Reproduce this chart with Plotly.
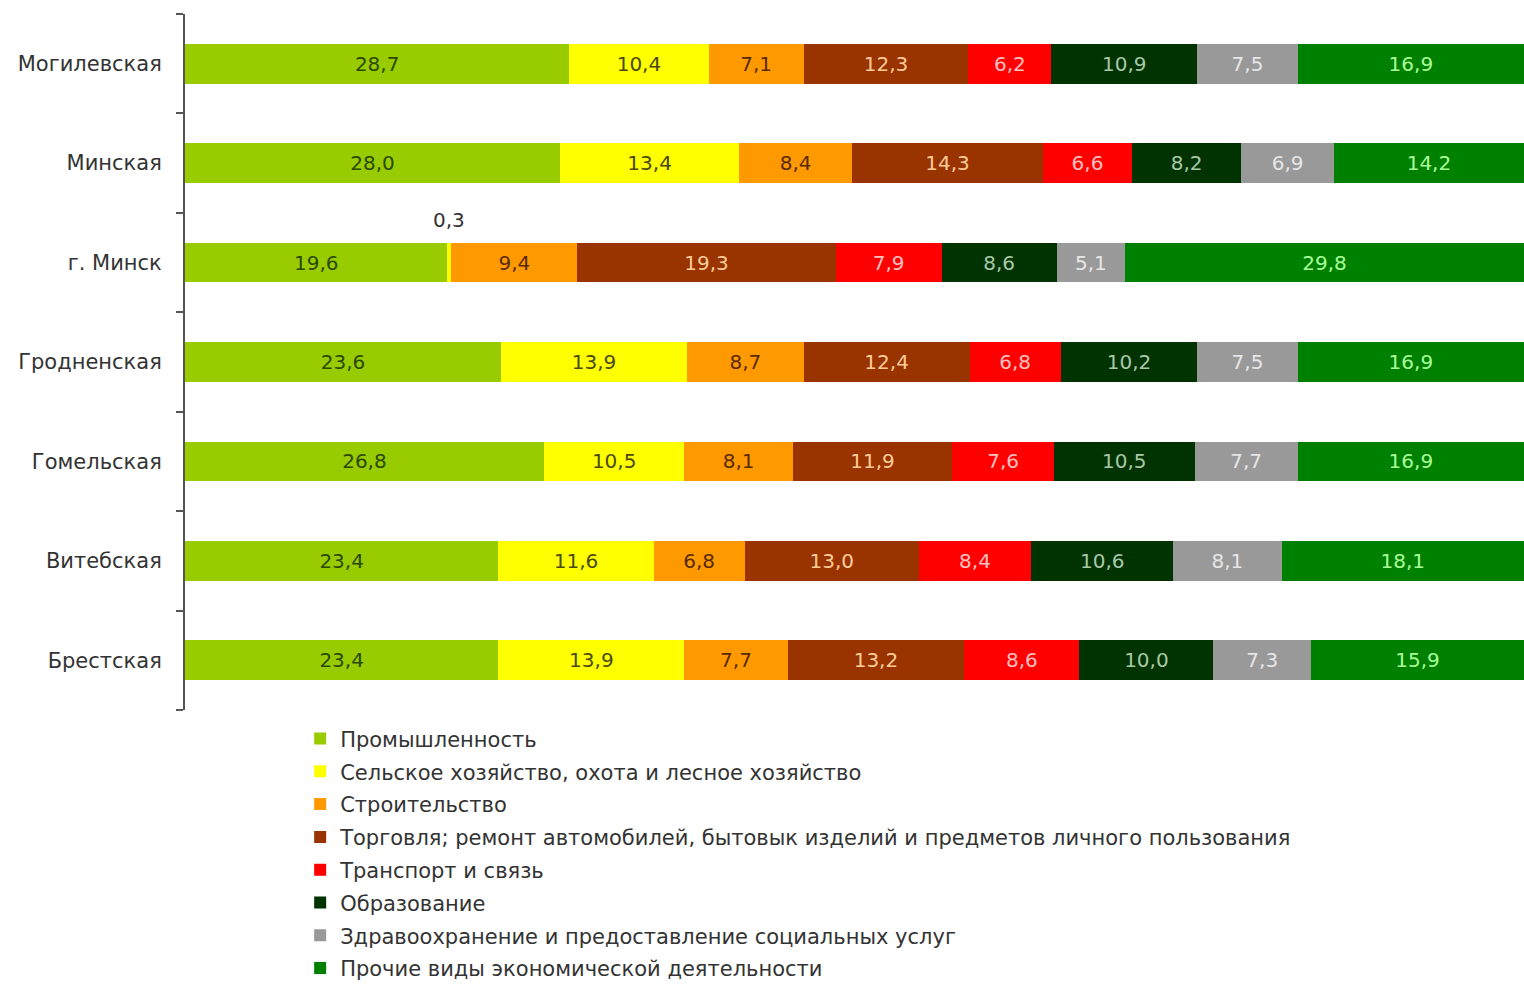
import plotly.graph_objects as go

# Regions, listed bottom-to-top as they appear on the category axis
regions = ["Брестская", "Витебская", "Гомельская", "Гродненская",
           "г. Минск", "Минская", "Могилевская"]

# Sectors (stack order, left to right)
sectors = [
    "Промышленность",
    "Сельское хозяйство, охота и лесное хозяйство",
    "Строительство",
    "Торговля; ремонт автомобилей, бытовык изделий и предметов личного пользования",
    "Транспорт и связь",
    "Образование",
    "Здравоохранение и предоставление социальных услуг",
    "Прочие виды экономической деятельности",
]

# Shares, %, per sector in the region order above
industry     = [23.4, 23.4, 26.8, 23.6, 19.6, 28.0, 28.7]
agriculture  = [13.9, 11.6, 10.5, 13.9, 0.3, 13.4, 10.4]
construction = [7.7, 6.8, 8.1, 8.7, 9.4, 8.4, 7.1]
trade        = [13.2, 13.0, 11.9, 12.4, 19.3, 14.3, 12.3]
transport    = [8.6, 8.4, 7.6, 6.8, 7.9, 6.6, 6.2]
education    = [10.0, 10.6, 10.5, 10.2, 8.6, 8.2, 10.9]
health       = [7.3, 8.1, 7.7, 7.5, 5.1, 6.9, 7.5]
other        = [15.9, 18.1, 16.9, 16.9, 29.8, 14.2, 16.9]

series = [industry, agriculture, construction, trade,
          transport, education, health, other]

bar_colors = ["#99cc00", "#ffff00", "#ff9900", "#993300",
              "#ff0000", "#003300", "#999999", "#008000"]
label_colors = ["#2a4a00", "#4a4a10", "#5a2a00", "#ffcc99",
                "#ffc0c0", "#a8c8a8", "#e6e6e6", "#a8ff98"]

FONT = "DejaVu Sans"

fig = go.Figure()
for name, vals, col, tcol in zip(sectors, series, bar_colors, label_colors):
    fig.add_trace(go.Bar(
        y=regions, x=vals, name=name, orientation="h",
        marker=dict(color=col, line=dict(width=0)),
        texttemplate=["%{x:.1f}" if v >= 1 else "" for v in vals],
        textposition="inside", insidetextanchor="middle", textangle=0,
        insidetextfont=dict(family=FONT, size=20, color=tcol),
        legendgroup=name, hoverinfo="skip",
    ))

# Tiny segment: its value is written above the bar
for i, v in enumerate(agriculture):
    if v < 1:
        fig.add_annotation(
            x=industry[i] + v / 2, y=regions[i], text=f"{v:.1f}".replace(".", ","),
            showarrow=False, yshift=43,
            font=dict(family=FONT, size=20, color="#333333"),
        )

fig.update_layout(
    width=1524, height=991,
    margin=dict(l=185, r=0, t=14, b=281, autoexpand=False),
    barmode="stack", bargap=0.6,
    separators=", ",
    paper_bgcolor="white", plot_bgcolor="white",
    showlegend=True,
    legend=dict(
        x=0.086, xanchor="left", y=-0.012, yanchor="top",
        orientation="v", traceorder="grouped", tracegroupgap=2.5,
        font=dict(family=FONT, size=21, color="#333333"),
        itemclick=False, itemdoubleclick=False,
    ),
    xaxis=dict(range=[0, 100], visible=False, fixedrange=True),
    yaxis=dict(
        categoryorder="array", categoryarray=regions,
        showline=True, linecolor="#555555", linewidth=2,
        ticks="outside", tickson="boundaries", ticklen=7,
        tickcolor="#555555", tickwidth=2, ticklabelstandoff=17,
        showgrid=False, zeroline=False,
        tickfont=dict(family=FONT, size=21, color="#333333"),
        fixedrange=True,
    ),
)

fig.write_html("out.html")
